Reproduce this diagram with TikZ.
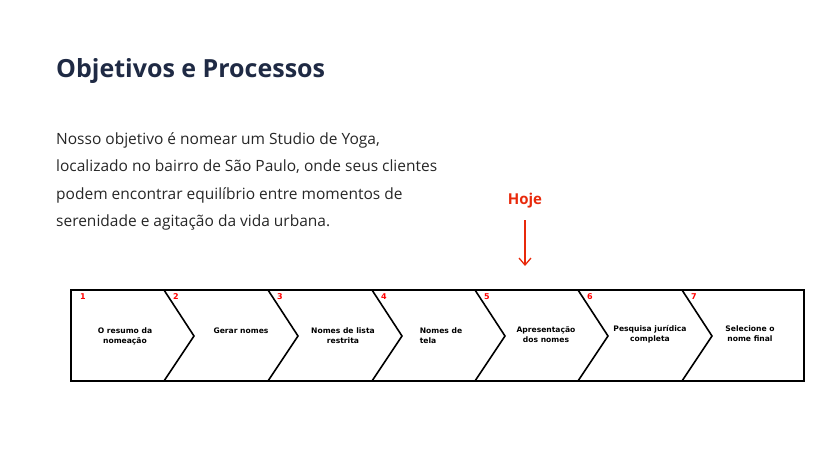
\documentclass[tikz,border=0pt]{standalone}
\usepackage{fontspec}
\setmainfont{Open Sans}
\newfontfamily\lbl{DejaVu Sans}
\usetikzlibrary{arrows.meta}
\definecolor{navy}{HTML}{1F2A44}
\definecolor{hred}{HTML}{E8290B}
\begin{document}
\begin{tikzpicture}[x=1pt,y=-1pt,
  band/.style={draw=black,line width=1.8pt,line join=miter},
  sep/.style={draw=black,line width=1.6pt},
  num/.style={text=red,font=\lbl\bfseries\fontsize{8}{9}\selectfont,anchor=north west,inner sep=0},
  steplbl/.style={font=\lbl\bfseries\fontsize{7.6}{10}\selectfont,align=center,inner sep=0}]
\useasboundingbox (0,0) rectangle (820,461);
\node[anchor=base west,inner sep=0,text=navy,font=\bfseries\fontsize{25}{30}\selectfont] (title) at (56,77) {Objetivos e Processos};
\node[anchor=north west,inner sep=0,align=left,text=black!85,font=\fontsize{15.5}{27.5}\selectfont] (body) at (56,132)
 {Nosso objetivo é nomear um Studio de Yoga,\\localizado no bairro de São Paulo, onde seus clientes\\podem encontrar equilíbrio entre momentos de\\serenidade e agitação da vida urbana.};
\node[text=hred,font=\bfseries\fontsize{15}{18}\selectfont,inner sep=0] (hoje) at (525,201) {Hoje};
\coordinate (a1) at (525,220);
\coordinate (a2) at (525,266);
\draw[hred,line width=1.3pt,-{Straight Barb[length=7pt,width=12pt]}] (a1) -- (a2);
\draw[band] (71,290) rectangle (804,381);
\foreach \t in {164,268,372,475,578,682}{
  \draw[sep] (\t,290) -- (\t+30,336) -- (\t,381);
}
\foreach \t/\n in {71/1,164/2,268/3,372/4,475/5,578/6,682/7}{
  \node[num] (n\n) at (\t+9,293) {\n};
}
\node[steplbl] (s1) at (125,336) {O resumo da\\nomeação};
\node[steplbl] (s2) at (241,331) {Gerar nomes};
\node[steplbl] (s3) at (343,336) {Nomes de lista\\restrita};
\node[steplbl,align=left] (s4) at (441,336) {Nomes de\\tela};
\node[steplbl] (s5) at (546,335) {Apresentação\\dos nomes};
\node[steplbl] (s6) at (650,334) {Pesquisa jurídica\\completa};
\node[steplbl] (s7) at (750,334) {Selecione o\\nome final};
\end{tikzpicture}
\end{document}
